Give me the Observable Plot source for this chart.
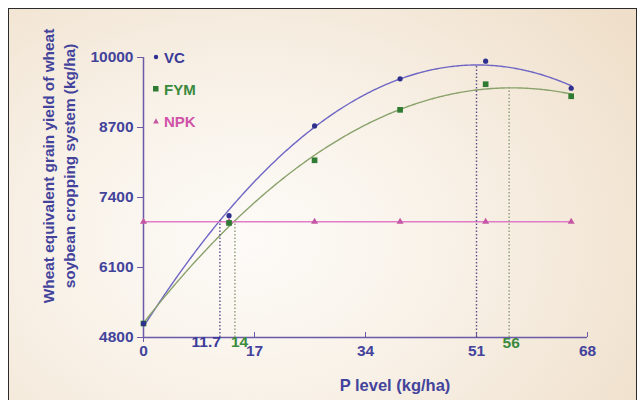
<!DOCTYPE html>
<html><head><meta charset="utf-8">
<script src="https://cdn.jsdelivr.net/npm/d3@7"></script>
<script src="https://cdn.jsdelivr.net/npm/@observablehq/plot@0.6"></script>
<style>
body{margin:0;width:637px;height:400px;overflow:hidden;background:#fff;font-family:"Liberation Sans",Arial,sans-serif;position:relative;}
#frame{position:absolute;left:8px;top:8px;width:629px;height:400px;border:1.5px solid #2b2b2b;border-bottom:none;box-sizing:border-box;
  background:radial-gradient(ellipse 75% 90% at 38% 58%, #fdfbf8 0%, #f8f1e7 45%, #efdfca 100%);}
#chart{position:absolute;left:0;top:0;}
.ytitle{position:absolute;left:59px;top:166px;transform:translate(-50%,-50%) rotate(-90deg);white-space:nowrap;text-align:center;
  font-weight:bold;font-size:15.4px;line-height:21px;color:#43439c;}
.xtitle{position:absolute;left:395px;top:385px;transform:translate(-50%,-50%);white-space:nowrap;font-weight:bold;font-size:16.5px;color:#43439c;}
.legend{position:absolute;left:151px;top:41px;font-weight:bold;font-size:15px;}
.legend div{height:32px;display:flex;align-items:center;gap:3px;}
.legend div svg{display:block}
</style></head>
<body>
<div id="frame"></div>
<div id="chart"></div>
<div class="ytitle">Wheat equivalent grain yield of wheat<br>soybean cropping system (kg/ha)</div>
<div class="xtitle">P level (kg/ha)</div>
<div class="legend" id="legend"></div>
<script>
// ---- data ----
const pLevel   = [0, 13.1, 26.2, 39.3, 52.4, 65.5];
const vcYield  = [5060, 7062, 8730, 9604, 9931, 9429];
const fymYield = [5060, 6927, 8091, 9028, 9504, 9280];
const npkYield = [6950, 6950, 6950, 6950, 6950, 6950];
const seriesNames = ["VC", "FYM", "NPK"];
const yTicks = [4800, 6100, 7400, 8700, 10000];
const xTicks = [0, 17, 34, 51, 68];
const markX = [11.7, 14, 51, 56];
const markSeries = ["VC", "FYM", "VC", "FYM"];
const markLabel = ["11.7", "14", "", "56"];

// ---- styling ----
const C = {
  axis: "#6a5aa8", tick: "#43439c",
  VC: {curve: "#6f66c4", dot: "#2f2f8e", text: "#3a3a98", rule: "#5a4f86"},
  FYM: {curve: "#8aa26c", dot: "#2f7b33", text: "#3b8a3d", rule: "#8d9b7b"},
  NPK: {curve: "#e07cc8", dot: "#c556a3", text: "#d052a9"}
};

// quadratic least-squares fit (the reference curves are 2nd order fits)
function quadFit(xs, ys) {
  const S = [0,0,0,0,0], T = [0,0,0];
  xs.forEach((x, i) => { for (let k = 0; k < 5; k++) S[k] += x ** k; for (let k = 0; k < 3; k++) T[k] += ys[i] * x ** k; });
  const A = [[S[0],S[1],S[2],T[0]],[S[1],S[2],S[3],T[1]],[S[2],S[3],S[4],T[2]]];
  for (let i = 0; i < 3; i++) for (let j = i + 1; j < 3; j++) { const f = A[j][i] / A[i][i]; for (let k = i; k < 4; k++) A[j][k] -= f * A[i][k]; }
  const c = [0,0,0];
  for (let i = 2; i >= 0; i--) { let s = A[i][3]; for (let k = i + 1; k < 3; k++) s -= A[i][k] * c[k]; c[i] = s / A[i][i]; }
  return x => c[0] + c[1] * x + c[2] * x * x;
}
const fits = {VC: quadFit(pLevel, vcYield), FYM: quadFit(pLevel, fymYield)};
const xs = d3.range(0, pLevel[pLevel.length - 1] + 1e-9, 0.25).concat([pLevel[pLevel.length - 1]]);
const curveData = s => xs.map(x => ({x, y: fits[s](x)}));
const pts = ys => pLevel.map((x, i) => ({x, y: ys[i]}));
const marks = markX.map((x, i) => ({x, s: markSeries[i], label: markLabel[i]}));

const plot = Plot.plot({
  width: 637, height: 400,
  marginLeft: 143, marginRight: 50, marginTop: 57, marginBottom: 63,
  x: {domain: [0, 68], label: null},
  y: {domain: [4800, 10000], label: null},
  style: {background: "transparent", fontFamily: "'Liberation Sans', Arial, sans-serif"},
  marks: [
    Plot.ruleY([4800], {stroke: C.axis, strokeWidth: 1.5}),
    Plot.ruleX([0], {stroke: C.axis, strokeWidth: 1.5}),
    Plot.axisY({ticks: yTicks, tickSize: 6, tickPadding: 4, tickFormat: d => String(d), label: null,
      stroke: C.axis, fill: C.tick, fontSize: 15.5, fontWeight: "bold"}),
    Plot.axisX({ticks: xTicks.filter(d => d > 0), tickSize: -5, tickFormat: () => "", label: null, stroke: C.axis}),
    Plot.axisX({ticks: [0], tickSize: 5, tickFormat: () => "", label: null, stroke: C.axis}),
    Plot.text(xTicks, {x: d => d, frameAnchor: "bottom", dy: 18, text: d => String(d),
      fill: C.tick, fontSize: 15.5, fontWeight: "bold"}),
    Plot.line(curveData("VC"), {x: "x", y: "y", stroke: C.VC.curve, strokeWidth: 1.4}),
    Plot.line(curveData("FYM"), {x: "x", y: "y", stroke: C.FYM.curve, strokeWidth: 1.4}),
    Plot.line(pts(npkYield), {x: "x", y: "y", stroke: C.NPK.curve, strokeWidth: 1.4}),
    Plot.ruleX(marks, {x: "x", y1: 4800, y2: d => fits[d.s](d.x), stroke: d => C[d.s].rule,
      strokeWidth: 1.4, strokeDasharray: "1.5,2"}),
    Plot.text(marks.filter(d => d.label && d.s === "VC"), {x: "x", frameAnchor: "bottom", dy: 9, text: "label",
      textAnchor: "end", dx: 1, fill: C.VC.text, fontSize: 15.5, fontWeight: "bold"}),
    Plot.text(marks.filter(d => d.label && d.s === "FYM" && d.x < 30), {x: "x", frameAnchor: "bottom", dy: 9, text: "label",
      textAnchor: "start", dx: -4, fill: C.FYM.text, fontSize: 15.5, fontWeight: "bold"}),
    Plot.text(marks.filter(d => d.label && d.s === "FYM" && d.x > 30), {x: "x", frameAnchor: "bottom", dy: 10, text: "label",
      dx: 2, fill: C.FYM.text, fontSize: 15.5, fontWeight: "bold"}),
    Plot.dot(pts(npkYield), {x: "x", y: "y", symbol: "triangle", r: 2.6, fill: C.NPK.dot, stroke: "none"}),
    Plot.dot(pts(fymYield), {x: "x", y: "y", symbol: "square", r: 3.2, fill: C.FYM.dot, stroke: "none"}),
    Plot.dot(pts(vcYield), {x: "x", y: "y", symbol: "circle", r: 2.6, fill: C.VC.dot, stroke: "none"})
  ]
});
document.getElementById("chart").appendChild(plot);

// legend
const sym = {
  VC: `<svg width="10" height="10"><circle cx="5" cy="5" r="2.2" fill="${C.VC.dot}"/></svg>`,
  FYM: `<svg width="10" height="10"><rect x="2" y="2" width="5.5" height="5.5" fill="${C.FYM.dot}"/></svg>`,
  NPK: `<svg width="10" height="10"><path d="M5,2.2L7.8,7.4H2.2Z" fill="${C.NPK.dot}"/></svg>`
};
document.getElementById("legend").innerHTML = seriesNames.map(s =>
  `<div>${sym[s]}<span style="color:${C[s].text}">${s}</span></div>`).join("");
</script>
</body></html>
